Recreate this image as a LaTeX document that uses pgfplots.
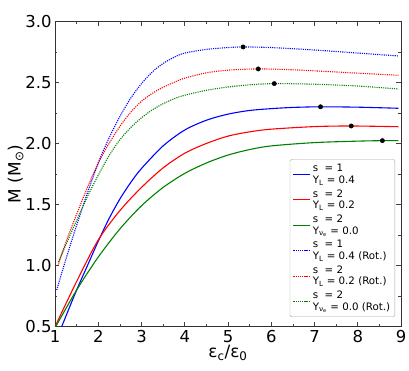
\documentclass[border=0pt]{standalone}
\usepackage{fontspec}
\setmainfont{DejaVu Sans}
\usepackage{pgfplots}
\pgfplotsset{compat=1.18}

\definecolor{mblue}{RGB}{0,0,255}
\definecolor{mred}{RGB}{255,0,0}
\definecolor{mgreen}{RGB}{0,128,0}

\begin{document}
\begin{tikzpicture}
\begin{axis}[
  scale only axis,
  width=346bp, height=305.4bp,
  xmin=1, xmax=9, ymin=0.5, ymax=3.0,
  xtick={1,2,...,9},
  ytick={0.5,1.0,...,3.0},
  minor x tick num=1, minor y tick num=1,
  tick pos=both, tick align=inside,
  major tick length=4.5bp, minor tick length=2.5bp,
  tick style={black!75, line width=0.6pt},
  axis line style={black!80, line width=0.8pt},
  /pgf/number format/assume math mode=true,
  yticklabel style={/pgf/number format/fixed, /pgf/number format/fixed zerofill, /pgf/number format/precision=1},
  tick label style={font=\fontsize{16.5}{16.5}\selectfont},
  label style={font=\fontsize{17}{17}\selectfont},
  xlabel={ε\textsubscript{c}/ε\textsubscript{0}},
  ylabel={M (M\textsubscript{⊙})},
  xlabel style={yshift=4bp},
  ylabel style={yshift=-5bp},
  legend cell align=left,
  legend style={at={(0.983,0.032)}, anchor=south east,
    font=\fontsize{10.3}{11.8}\selectfont, draw=black!35, rounded corners=1.5pt,
    nodes={align=left}, row sep=0.6bp, inner sep=2.8bp},
  legend image post style={line width=1pt},
]
% solid: non-rotating
\addplot[mblue, line width=1.1pt, smooth] coordinates {
 (1.154,0.50) (1.5,0.80) (1.75,1.00) (2.0,1.20) (2.25,1.385) (2.5,1.545) (2.75,1.68) (3.0,1.795)
 (3.5,1.98) (4.0,2.11) (4.5,2.19) (5.0,2.24) (5.5,2.27) (6.0,2.285) (6.5,2.295)
 (7.14,2.30) (8.0,2.297) (8.94,2.288)};
\addlegendentry{s\ \ = 1\\Y\textsubscript{L} = 0.4}
\addplot[mred, line width=1.1pt, smooth] coordinates {
 (1.0,0.50) (1.5,0.87) (2.0,1.21) (2.5,1.45) (3.0,1.64) (3.5,1.80) (4.0,1.92)
 (4.5,2.00) (5.0,2.06) (5.5,2.095) (6.0,2.117) (7.0,2.138) (7.85,2.143) (8.94,2.137)};
\addlegendentry{s\ \ = 2\\Y\textsubscript{L} = 0.2}
\addplot[mgreen, line width=1.1pt, smooth] coordinates {
 (1.0,0.49) (1.5,0.80) (2.0,1.07) (2.5,1.30) (3.0,1.49) (3.5,1.64) (4.0,1.755)
 (4.5,1.84) (5.0,1.905) (5.5,1.95) (6.0,1.98) (7.0,2.007) (8.0,2.019) (8.57,2.023) (8.94,2.023)};
\addlegendentry{s\ \ = 2\\Y\textsubscript{ν\textsubscript{e}} = 0.0}
% dotted: rotating
\addplot[mblue, line width=1.1pt, smooth, dash pattern=on 1.1pt off 1.1pt] coordinates {
 (1.04,0.80) (1.25,1.05) (1.5,1.33) (1.75,1.595) (2.0,1.84) (2.25,2.045) (2.5,2.22)
 (2.75,2.37) (3.0,2.49) (3.25,2.585) (3.5,2.655) (3.75,2.705) (4.0,2.74) (4.5,2.77)
 (5.0,2.785) (5.35,2.79) (6.0,2.785) (7.0,2.765) (8.0,2.74) (8.94,2.716)};
\addlegendentry{s\ \ = 1\\Y\textsubscript{L} = 0.4 (Rot.)}
\addplot[mred, line width=1.1pt, smooth, dash pattern=on 1.1pt off 1.1pt] coordinates {
 (1.07,1.00) (1.25,1.19) (1.5,1.42) (1.75,1.64) (2.0,1.84) (2.25,2.00) (2.5,2.14)
 (2.75,2.255) (3.0,2.345) (3.25,2.41) (3.5,2.46) (3.75,2.50) (4.0,2.535) (4.5,2.578)
 (5.0,2.60) (5.7,2.61) (6.5,2.603) (7.5,2.585) (8.94,2.558)};
\addlegendentry{s\ \ = 2\\Y\textsubscript{L} = 0.2 (Rot.)}
\addplot[mgreen, line width=1.1pt, smooth, dash pattern=on 1.1pt off 1.1pt] coordinates {
 (1.08,1.03) (1.25,1.17) (1.5,1.37) (1.75,1.565) (2.0,1.74) (2.25,1.90) (2.5,2.03)
 (2.75,2.13) (3.0,2.21) (3.25,2.275) (3.5,2.325) (3.75,2.365) (4.0,2.395) (4.5,2.435)
 (5.0,2.462) (5.5,2.48) (6.07,2.49) (7.0,2.485) (8.0,2.47) (8.94,2.446)};
\addlegendentry{s\ \ = 2\\Y\textsubscript{ν\textsubscript{e}} = 0.0 (Rot.)}
% maximum-mass points
\addplot[only marks, mark=*, mark size=2.2pt, black, forget plot] coordinates {
 (5.35,2.79) (5.70,2.61) (6.07,2.49) (7.14,2.30) (7.85,2.143) (8.57,2.023)};
\end{axis}
\pgfresetboundingbox
\path (-55bp,-44.3bp) rectangle (354bp,326.7bp);
\end{tikzpicture}
\end{document}
